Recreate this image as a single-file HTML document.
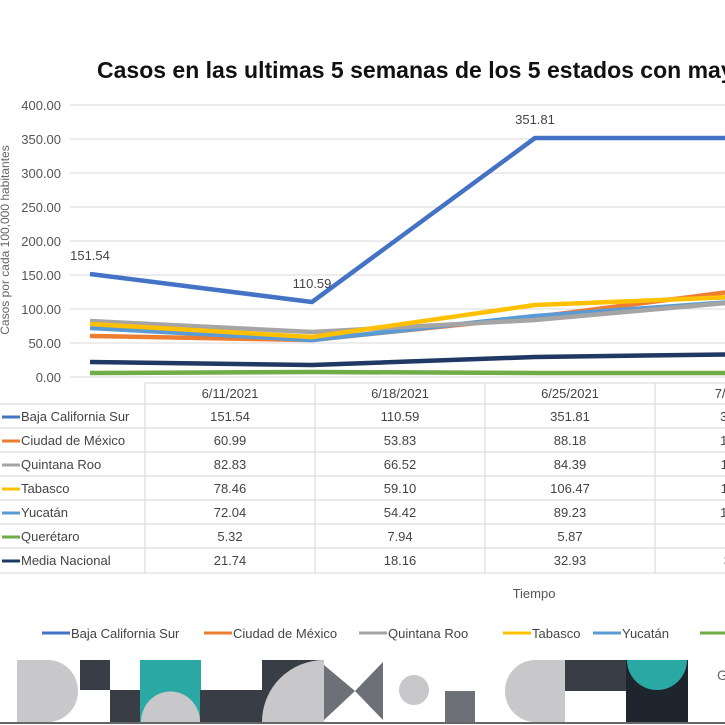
<!DOCTYPE html>
<html><head><meta charset="utf-8"><style>
html,body{margin:0;padding:0;background:#fff;width:725px;height:725px;overflow:hidden}
svg{display:block;font-family:"Liberation Sans",sans-serif}
</style></head><body>
<svg width="725" height="725" viewBox="0 0 725 725" xmlns="http://www.w3.org/2000/svg">
<text x="97" y="78" font-size="23" font-weight="bold" fill="#111">Casos en las ultimas 5 semanas de los 5 estados con mayor incidencia</text>
<g stroke="#d9d9d9" stroke-width="1">
<line x1="70" y1="105" x2="725" y2="105"/><line x1="70" y1="139" x2="725" y2="139"/>
<line x1="70" y1="173" x2="725" y2="173"/><line x1="70" y1="207" x2="725" y2="207"/>
<line x1="70" y1="241" x2="725" y2="241"/><line x1="70" y1="275" x2="725" y2="275"/>
<line x1="70" y1="309" x2="725" y2="309"/><line x1="70" y1="343" x2="725" y2="343"/>
<line x1="70" y1="377" x2="725" y2="377"/>
</g>
<g font-size="13" fill="#555" text-anchor="end">
<text x="61" y="110">400.00</text><text x="61" y="144">350.00</text><text x="61" y="178">300.00</text>
<text x="61" y="212">250.00</text><text x="61" y="246">200.00</text><text x="61" y="280">150.00</text>
<text x="61" y="314">100.00</text><text x="61" y="348">50.00</text><text x="61" y="382">0.00</text>
</g>
<text transform="translate(9,240) rotate(-90)" font-size="12" fill="#666" text-anchor="middle">Casos por cada 100,000 habitantes</text>
<g fill="none" stroke-width="4.5" stroke-linejoin="round">
<polyline stroke="#70ad47" points="90,373 312,372 535,373 760,373"/>
<polyline stroke="#203864" points="90,362 312,365 535,357 760,354"/>
<polyline stroke="#ed7d31" points="90,336 312,340 535,317 760,288"/>
<polyline stroke="#5b9bd5" points="90,328 312,340 535,316 760,300"/>
<polyline stroke="#a5a5a5" points="90,321 312,332 535,320 760,300"/>
<polyline stroke="#ffc000" points="90,324 312,337 535,305 760,296"/>
<polyline stroke="#4472c4" points="90,274 312,302 535,138 760,138"/>
</g>
<g font-size="13" fill="#444" text-anchor="middle">
<text x="90" y="260">151.54</text><text x="312" y="288">110.59</text><text x="535" y="124">351.81</text>
</g>
<g stroke="#d4d4d4" stroke-width="1">
<line x1="145" y1="383" x2="725" y2="383"/>
<line x1="0" y1="404" x2="725" y2="404"/><line x1="0" y1="428" x2="725" y2="428"/>
<line x1="0" y1="452" x2="725" y2="452"/><line x1="0" y1="476" x2="725" y2="476"/>
<line x1="0" y1="500" x2="725" y2="500"/><line x1="0" y1="524" x2="725" y2="524"/>
<line x1="0" y1="548" x2="725" y2="548"/><line x1="0" y1="573" x2="725" y2="573"/>
<line x1="145" y1="383" x2="145" y2="573"/><line x1="315" y1="383" x2="315" y2="573"/>
<line x1="485" y1="383" x2="485" y2="573"/><line x1="655" y1="383" x2="655" y2="573"/>
</g>
<g font-size="13" fill="#444" text-anchor="middle">
<text x="230" y="398">6/11/2021</text><text x="400" y="398">6/18/2021</text><text x="570" y="398">6/25/2021</text><text x="740" y="398">7/2/2021</text>
<text x="230" y="421">151.54</text><text x="400" y="421">110.59</text><text x="570" y="421">351.81</text><text x="740" y="421">351.81</text>
<text x="230" y="445">60.99</text><text x="400" y="445">53.83</text><text x="570" y="445">88.18</text><text x="740" y="445">125.00</text>
<text x="230" y="469">82.83</text><text x="400" y="469">66.52</text><text x="570" y="469">84.39</text><text x="740" y="469">110.00</text>
<text x="230" y="493">78.46</text><text x="400" y="493">59.10</text><text x="570" y="493">106.47</text><text x="740" y="493">115.00</text>
<text x="230" y="517">72.04</text><text x="400" y="517">54.42</text><text x="570" y="517">89.23</text><text x="740" y="517">105.00</text>
<text x="230" y="541">5.32</text><text x="400" y="541">7.94</text><text x="570" y="541">5.87</text><text x="740" y="541">5.00</text>
<text x="230" y="565">21.74</text><text x="400" y="565">18.16</text><text x="570" y="565">32.93</text><text x="740" y="565">38.00</text>
</g>
<g stroke-width="3">
<line x1="2" y1="417" x2="20" y2="417" stroke="#4472c4"/>
<line x1="2" y1="441" x2="20" y2="441" stroke="#ed7d31"/>
<line x1="2" y1="465" x2="20" y2="465" stroke="#a5a5a5"/>
<line x1="2" y1="489" x2="20" y2="489" stroke="#ffc000"/>
<line x1="2" y1="513" x2="20" y2="513" stroke="#5b9bd5"/>
<line x1="2" y1="537" x2="20" y2="537" stroke="#70ad47"/>
<line x1="2" y1="561" x2="20" y2="561" stroke="#203864"/>
</g>
<g font-size="13" fill="#444">
<text x="21" y="421">Baja California Sur</text><text x="21" y="445">Ciudad de México</text>
<text x="21" y="469">Quintana Roo</text><text x="21" y="493">Tabasco</text>
<text x="21" y="517">Yucatán</text><text x="21" y="541">Querétaro</text><text x="21" y="565">Media Nacional</text>
</g>
<text x="534" y="598" font-size="13" fill="#555" text-anchor="middle">Tiempo</text>
<g stroke-width="3">
<line x1="42" y1="633" x2="70" y2="633" stroke="#4472c4"/>
<line x1="204" y1="633" x2="232" y2="633" stroke="#ed7d31"/>
<line x1="359" y1="633" x2="387" y2="633" stroke="#a5a5a5"/>
<line x1="503" y1="633" x2="531" y2="633" stroke="#ffc000"/>
<line x1="593" y1="633" x2="621" y2="633" stroke="#5b9bd5"/>
<line x1="700" y1="633" x2="725" y2="633" stroke="#70ad47"/>
</g>
<g font-size="13" fill="#444">
<text x="71" y="638">Baja California Sur</text><text x="233" y="638">Ciudad de México</text>
<text x="388" y="638">Quintana Roo</text><text x="532" y="638">Tabasco</text><text x="622" y="638">Yucatán</text>
</g>
<path d="M17,660 H48 A30,31 0 0 1 48,722 H17 Z" fill="#c8c8cb"/>
<rect x="80" y="660" width="30" height="30" fill="#393d45"/>
<rect x="110" y="690" width="30" height="32" fill="#393d45"/>
<rect x="140" y="660" width="61" height="62" fill="#2aa8a3"/>
<path d="M141,722 A29,30 0 0 1 200,722 Z" fill="#c8c8cb"/>
<rect x="200" y="690" width="62" height="32" fill="#393d45"/>
<rect x="262" y="660" width="62" height="62" fill="#393d45"/>
<path d="M262,722 A62,62 0 0 1 324,660 V722 Z" fill="#c8c8cb"/>
<path d="M324,665 L355,691 L324,720 Z" fill="#6d7077"/>
<path d="M383,662 L355,691 L383,720 Z" fill="#6d7077"/>
<circle cx="414" cy="690" r="15" fill="#c8c8cb"/>
<rect x="445" y="691" width="30" height="31" fill="#6d7077"/>
<path d="M565,660 H535 A30,31 0 0 0 535,722 H565 Z" fill="#c8c8cb"/>
<rect x="565" y="660" width="62" height="31" fill="#393d45"/>
<rect x="626" y="660" width="62" height="62" fill="#1e252e"/>
<path d="M627,660 A30,30 0 0 0 687,660 Z" fill="#2aa8a3"/>
<line x1="0" y1="723" x2="725" y2="723" stroke="#666" stroke-width="2"/>
<text x="717" y="680" font-size="14" fill="#666">G</text>
</svg>
</body></html>
